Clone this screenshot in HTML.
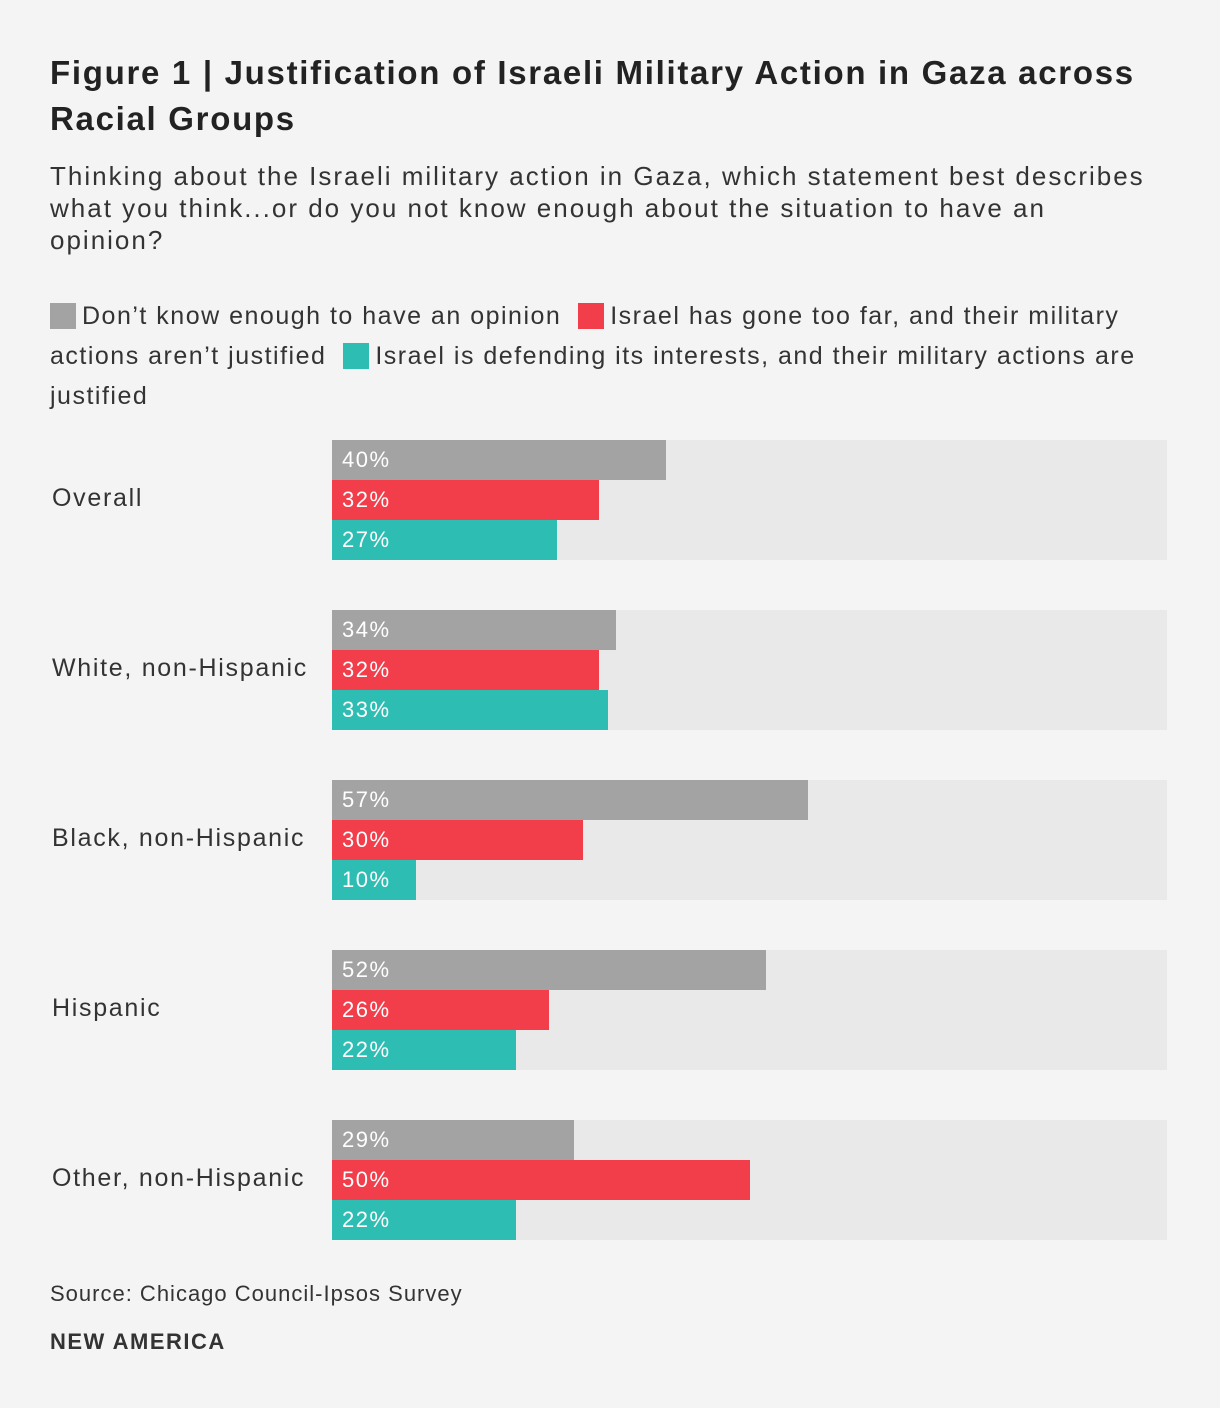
<!DOCTYPE html>
<html><head><meta charset="utf-8"><style>
body{margin:0;background:#f4f4f4;font-family:"Liberation Sans",sans-serif;color:#222;}
#wrap{position:relative;width:1220px;height:1408px;overflow:hidden;}
.t{position:absolute;left:50px;}
#title{top:50px;font-size:33px;font-weight:bold;line-height:46px;width:1160px;letter-spacing:1.7px;}
#sub{top:160px;font-size:26px;line-height:32px;width:1160px;color:#333;letter-spacing:2px;white-space:nowrap;}
#legend{top:296px;font-size:25px;line-height:40px;width:1110px;color:#333;letter-spacing:1.5px;}
.sw{display:inline-block;width:26px;height:26px;vertical-align:-5px;margin-right:6px;}
.cat{position:absolute;left:52px;font-size:25px;color:#333;letter-spacing:1.7px;}
.track{position:absolute;left:332px;width:835px;height:120px;background:#e9e9e9;}
.bar{position:absolute;left:332px;height:40px;}
.lbl{position:absolute;left:342px;font-size:22px;color:#fff;line-height:40px;letter-spacing:1.5px;}
#src{top:1281px;font-size:22px;color:#333;letter-spacing:1px;}
#brand{top:1329px;font-size:22px;font-weight:bold;color:#333;letter-spacing:1.5px;}
</style></head><body><div id="wrap">
<div class="t" id="title">Figure 1 | Justification of Israeli Military Action in Gaza across Racial Groups</div>
<div class="t" id="sub">Thinking about the Israeli military action in Gaza, which statement best describes<br>what you think...or do you not know enough about the situation to have an<br>opinion?</div>
<div class="t" id="legend"><span><span class="sw" style="background:#a3a3a3"></span>Don’t know enough to have an opinion</span> &nbsp;<span><span class="sw" style="background:#f23d4a"></span>Israel has gone too far, and their military actions aren’t justified</span> &nbsp;<span><span class="sw" style="background:#2ebdb3"></span>Israel is defending its interests, and their military actions are justified</span></div>
<div id="plot"></div>
<div class="t" id="src">Source: Chicago Council-Ipsos Survey</div>
<div class="t" id="brand">NEW AMERICA</div>
</div>
<script>
const categories=["Overall","White, non-Hispanic","Black, non-Hispanic","Hispanic","Other, non-Hispanic"];
const dontKnow=[40,34,57,52,29];
const tooFar=[32,32,30,26,50];
const defending=[27,33,10,22,22];
const seriesColors=["#a3a3a3","#f23d4a","#2ebdb3"];
const seriesNames=["dont-know","too-far","defending"];
const x=v=>v*8.35;
const plot=document.getElementById('plot');
categories.forEach((c,i)=>{
  const top=440+i*170;
  const tr=document.createElement('div');tr.className='track';tr.style.top=top+'px';
  
  
  plot.appendChild(tr);
  const cl=document.createElement('div');cl.className='cat';cl.style.top=(top+44)+'px';cl.textContent=c;
  
  
  plot.appendChild(cl);
  [dontKnow,tooFar,defending].forEach((s,j)=>{
    const b=document.createElement('div');b.className='bar';
    b.style.top=(top+j*40)+'px';b.style.width=x(s[i])+'px';b.style.background=seriesColors[j];
    
    
    plot.appendChild(b);
    const l=document.createElement('div');l.className='lbl';l.style.top=(top+j*40)+'px';l.textContent=s[i]+'%';
    
    
    plot.appendChild(l);
  });
});
</script></body></html>
